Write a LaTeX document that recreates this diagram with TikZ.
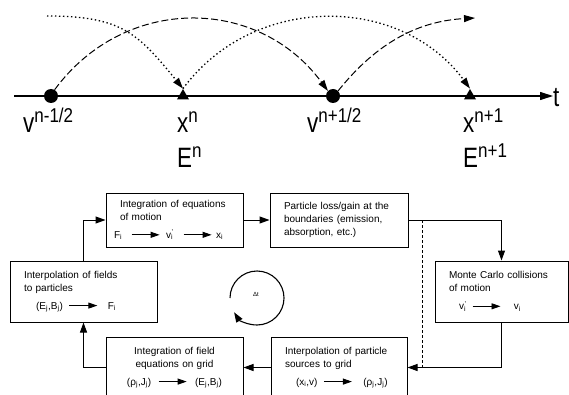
\documentclass[tikz,border=0pt]{standalone}
\usepackage{fontspec}
\setmainfont{Liberation Sans}
\usepackage{graphicx}
\usepackage{tikz}
\usetikzlibrary{shapes.geometric, arrows.meta, positioning, calc}
\tikzset{
	blk/.style     ={rectangle, draw=black, line width=1pt, inner xsep=14pt, align=left, font=\fontsize{10}{13}\selectfont},
	sig/.style     ={-{Triangle[length=10pt, width=7pt]}, line width=1pt},
	axis/.style    ={-{Triangle[length=13pt, width=8pt]}, line width=1.1pt},
	dot/.style     ={circle, fill=black, minimum size=14pt, inner sep=0pt},
	tri/.style     ={regular polygon, regular polygon sides=3, fill=black, minimum size=14pt, inner sep=0pt},
	dasharc/.style ={dash pattern=on 7pt off 3pt, line width=1pt, -{Triangle[length=11pt, width=7pt]}},
	dotarc/.style  ={dash pattern=on 1.4pt off 2.6pt, line width=1.3pt, -{Triangle[length=11pt, width=7pt]}},
	biglbl/.style  ={inner sep=0pt, font=\fontsize{28}{32}\selectfont},
}
\newcommand{\farr}{\tikz[baseline=-3.5pt, x=1pt, y=1pt]\draw[line width=0.9pt, -{Triangle[length=9pt, width=6pt]}] (0,0) -- (28,0);}
\newcommand{\vpr}{v\rlap{\textsuperscript{\kern0.5pt'}}\textsubscript{i}}
\newcommand{\tlbl}[2]{\scalebox{0.8}[1]{#1}\raisebox{10pt}{\scalebox{0.85}[1]{\fontsize{20}{20}\selectfont #2}}}

\begin{document}
\begin{tikzpicture}[x=1pt, y=1pt]
	\useasboundingbox (0,0) rectangle (569,394);
	% time step
	\node[font=\fontsize{6}{7}\selectfont] (dt) at (256,100) {Δt};
	\draw[sig, line width=1.1pt] (257,96) ++(180:27) arc[start angle=180, end angle=-148, radius=27];
	% time axis
	\coordinate (t0) at (14,298);
	\node[biglbl, anchor=west] (tl) at (553,296) {\scalebox{0.8}[1]{t}};
	\draw[axis] (t0) -- (t0 -| tl.west);
	\node[dot] (v1) at (51,298) {};
	\node[tri] (x1) at (183,298) {};
	\node[dot] (v2) at (333,298) {};
	\node[tri] (x2) at (470,298) {};
	\node[biglbl, anchor=base west] (lv1) at (23,261) {\tlbl{v}{n-1/2}};
	\node[biglbl, anchor=base west] (lx1) at (177,261) {\tlbl{x}{n}};
	\node[biglbl, anchor=base west] (le1) at (177,226) {\tlbl{E}{n}};
	\node[biglbl, anchor=base west] (lv2) at (307,261) {\tlbl{v}{n+1/2}};
	\node[biglbl, anchor=base west] (lx2) at (463,261) {\tlbl{x}{n+1}};
	\node[biglbl, anchor=base west] (le2) at (463,226) {\tlbl{E}{n+1}};
	% leapfrog arcs
	\coordinate (dotA) at (47,378);
	\coordinate (tipA) at (475,376);
	\draw[dasharc] (v1.60) .. controls +(70,95) and +(-70,95) .. (v2.135);
	\draw[dasharc] (v2.45) .. controls +(40,50) and +(-55,-3) .. (tipA);
	\draw[dotarc] (dotA) .. controls +(75,0) and +(-45,55) .. (x1.corner 1);
	\draw[dotarc] (x1.corner 1) .. controls +(70,95) and +(-70,95) .. (x2.corner 1);
	% cycle boxes
	\node[blk, text width=109pt, minimum height=54pt] (b1) at (174.5,174)
		{Integration of equations\\of motion\\[5pt]\hspace*{-6pt}F\textsubscript{i}\hspace{9pt}\farr\hspace{6pt}\vpr\hspace{10pt}\farr\hspace{4pt}x\textsubscript{i}};
	\node[blk, text width=110pt, minimum height=54pt] (b2) at (339,174)
		{Particle loss/gain at the\\boundaries (emission,\\absorption, etc.)};
	\node[blk, text width=119pt, minimum height=61pt] (bl) at (83.5,102.5)
		{Interpolation of fields\\to particles\\[5pt]\hspace*{12pt}(E\textsubscript{j},B\textsubscript{j})\hspace{6pt}\farr\hspace{10pt}F\textsubscript{i}};
	\node[blk, text width=105pt, minimum height=61pt] (bm) at (501.5,102.5)
		{Monte Carlo collisions\\of motion\\[5pt]\hspace*{10pt}\vpr\hspace{6pt}\farr\hspace{13pt}v\textsubscript{i}};
	\node[blk, text width=109pt, minimum height=61pt, align=center] (bf) at (174.5,26.5)
		{Integration of field\\equations on grid\\[5pt](ρ\textsubscript{j},J\textsubscript{j})\hspace{7pt}\farr\hspace{8pt}(E\textsubscript{j},B\textsubscript{j})};
	\node[blk, text width=108pt, minimum height=61pt] (bs) at (339,26.5)
		{Interpolation of particle\\sources to grid\\[5pt]\hspace*{11pt}(x\textsubscript{i},v)\hspace{6pt}\farr\hspace{11pt}(ρ\textsubscript{j},J\textsubscript{j})};
	% connectors
	\draw[sig] (bl.north) |- (b1.west);
	\draw[sig] (b1.east) -- (b2.west);
	\draw[sig] (b2.east) -| (bm.north);
	\draw[sig] (bm.south) |- (bs.east);
	\draw[sig] (bs.west) -- (bf.east);
	\draw[sig] (bf.west) -| (bl.south);
	\draw[densely dashed, line width=0.6pt] ($(b2.east)+(14,0)$) -- ($(bs.east)+(15,0)$);
\end{tikzpicture}
\end{document}
